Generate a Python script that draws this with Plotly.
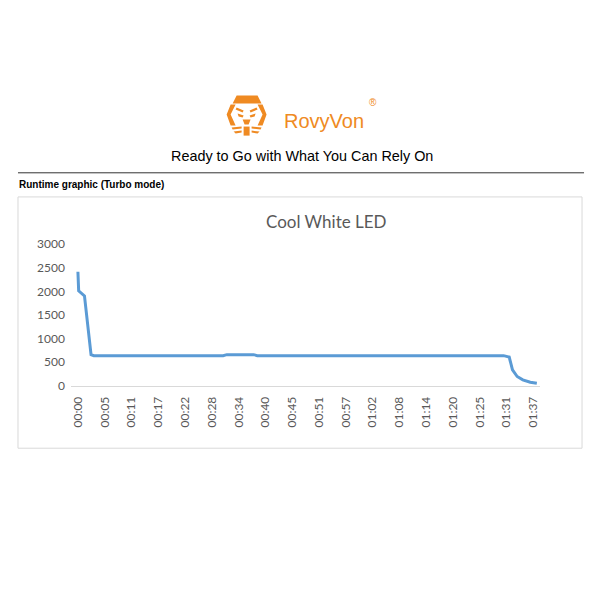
import plotly.graph_objects as go

# runtime readings, time in minutes
minutes = [0, 0.16, 1.4, 2.8, 3.4, 31.0, 31.8, 37.5, 38.3, 90.9, 92.1, 92.8, 93.8, 95.0, 96.6, 98.0]
lumens = [2417, 2012, 1905, 661, 640, 640, 661, 661, 640, 640, 611, 341, 199, 128, 78, 57]

tick_minutes = [5.72 * i for i in range(18)]
tick_labels = ["00:00", "00:05", "00:11", "00:17", "00:22", "00:28", "00:34", "00:40", "00:45",
               "00:51", "00:57", "01:02", "01:08", "01:14", "01:20", "01:25", "01:31", "01:37"]

W = H = 600
OFF = 8  # page margin of the html body
ORANGE = "#ef8a22"


def px(x):
    return (x - OFF) / W


def py(y):
    # vertical placement tuned against the rendered page
    return 1 - ((y - 16) / 0.97) / H


def poly(points):
    return "M " + " L ".join(f"{px(x)},{py(y)}" for x, y in points) + " Z"


fig = go.Figure()
fig.add_trace(go.Scatter(
    x=minutes, y=lumens, mode="lines",
    line=dict(color="#5b9bd5", width=3), hoverinfo="skip", showlegend=False
))

fig.update_layout(
    width=W, height=H,
    margin=dict(l=0, r=0, t=0, b=0),
    paper_bgcolor="white", plot_bgcolor="white",
    xaxis=dict(
        domain=[px(70), px(540)], range=[-1.5, 98.7],
        tickvals=tick_minutes, ticktext=tick_labels, tickangle=-90,
        showgrid=False, zeroline=False, showline=True, linecolor="#d9d9d9",
        ticks="", ticklabelstandoff=5,
        tickfont=dict(family="Lato", size=12, color="#595959"),
    ),
    yaxis=dict(
        domain=[py(384), py(243)], range=[0, 3000],
        tickvals=[0, 500, 1000, 1500, 2000, 2500, 3000],
        showgrid=False, zeroline=False, showline=False, ticks="",
        ticklabelstandoff=5,
        tickfont=dict(family="Lato", size=12, color="#595959"),
    ),
)

# page rule and chart border
shapes = [
    dict(type="line", xref="paper", yref="paper", x0=px(17), x1=px(584), y0=py(172), y1=py(172),
         line=dict(color="#333333", width=1)),
    dict(type="rect", xref="paper", yref="paper", x0=px(17), x1=px(582), y0=py(196), y1=py(446),
         line=dict(color="#d9d9d9", width=1)),
]

# simplified lion logo
logo_parts = [
    [(236, 95), (257, 95), (261, 103), (232, 103)],
    [(230, 104), (235, 104), (230, 114), (235, 125), (230, 125), (226, 114)],
    [(262, 104), (257, 104), (262, 114), (257, 125), (262, 125), (266, 114)],
    [(236, 107), (243, 110), (242, 112), (235, 109)],
    [(256, 107), (249, 110), (250, 112), (257, 109)],
    [(237, 113), (243, 115), (242, 117), (238, 116)],
    [(255, 113), (249, 115), (250, 117), (254, 116)],
    [(242, 119), (250, 119), (248, 124), (244, 124)],
    [(231, 127), (241, 126), (241, 128), (232, 129)],
    [(233, 131), (241, 130), (241, 132), (235, 133)],
    [(261, 127), (251, 126), (251, 128), (260, 129)],
    [(259, 131), (251, 130), (251, 132), (257, 133)],
    [(243, 126), (249, 126), (249, 135), (243, 135)],
]
for part in logo_parts:
    shapes.append(dict(type="path", xref="paper", yref="paper", path=poly(part),
                       fillcolor=ORANGE, line=dict(width=0)))
fig.update_layout(shapes=shapes)

annotations = [
    dict(text="RovyVon", x=px(281), y=py(120), xanchor="left", yanchor="middle",
         font=dict(family="Liberation Sans", size=20, color=ORANGE)),
    dict(text="®", x=px(367), y=py(102), xanchor="left", yanchor="middle",
         font=dict(family="Liberation Sans", size=10, color=ORANGE)),
    dict(text="Ready to Go with What You Can Rely On", x=px(301), y=py(155),
         xanchor="center", yanchor="middle",
         font=dict(family="Liberation Sans", size=14.4, color="black")),
    dict(text="<b>Runtime graphic (Turbo mode)</b>", x=px(16), y=py(184),
         xanchor="left", yanchor="middle",
         font=dict(family="Liberation Sans", size=10, color="black")),
    dict(text="Cool White LED", x=px(326), y=py(220), xanchor="center", yanchor="middle",
         font=dict(family="Lato", size=17, color="#595959")),
]
for a in annotations:
    a.update(xref="paper", yref="paper", showarrow=False)
fig.update_layout(annotations=annotations)

fig.write_html("out.html")
